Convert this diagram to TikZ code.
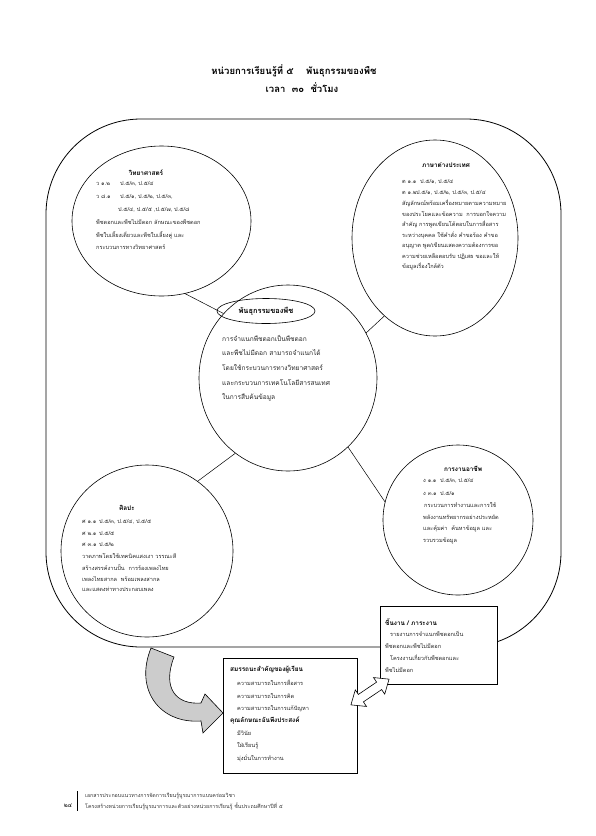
\documentclass[tikz,border=0pt]{standalone}
\usepackage{fontspec}
\newfontfamily\thf[Script=Thai]{Loma}
\usetikzlibrary{shapes.geometric,shapes.arrows}
\newcommand\tlines[6]{%
  \foreach \s [count=\i from 0] in {#5} {\node[#6] (#1\i) at (#2, #3+\i*#4) {\s};}}
\begin{document}
\begin{tikzpicture}[x=1pt,y=-1pt, font=\thf,
  bub/.style={draw, ellipse, inner sep=0pt, line width=0.6pt},
  tt/.style={anchor=west, inner sep=0pt, font=\thf\fontsize{5.6}{6}\selectfont, text=black!85},
  tc/.style={anchor=west, inner sep=0pt, font=\thf\fontsize{6.6}{7}\selectfont, text=black!85},
  hd/.style={inner sep=0pt, font=\thf\bfseries\fontsize{6.4}{7}\selectfont},
  hdw/.style={anchor=west, inner sep=0pt, font=\thf\bfseries\fontsize{6.4}{7}\selectfont},
  link/.style={line width=0.5pt},
  box/.style={draw, fill=white, inner sep=0pt, line width=0.6pt}]
\useasboundingbox (0,0) rectangle (595,836);
% title
\node[font=\thf\bfseries\fontsize{9.5}{10}\selectfont, inner sep=0] (title1) at (294,71) {หน่วยการเรียนรู้ที่ ๕ \quad พันธุกรรมของพืช};
\node[font=\thf\bfseries\fontsize{9.5}{10}\selectfont, inner sep=0] (title2) at (302,88) {เวลา \ ๓๐ \ ชั่วโมง};
% frame
\node[draw, line width=0.8pt, rounded corners=95pt, minimum width=515pt, minimum height=528pt, inner sep=0] (frame) at (303.5,383) {};
% bubbles
\node[bub, minimum width=179pt, minimum height=150pt] (sci) at (161.5,221) {};
\node[bub, minimum width=166pt, minimum height=196pt] (eng) at (435,238) {};
\node[bub, minimum width=178pt, minimum height=186pt] (core) at (288,378) {};
\node[bub, minimum width=150pt, minimum height=150pt] (work) at (458,520) {};
\node[bub, minimum width=172pt, minimum height=172pt] (art) at (147,551) {};
\node[bub, minimum width=98pt, minimum height=25pt] (coreT) at (266,311) {};
% links
\draw[link] (sci.-72) -- (core.135);
\draw[link] (core.30) -- (eng.-123);
\draw[link] (core.-49) -- (work.166);
\draw[link] (core.235) -- (art.54);
% texts: science
\node[hd] (sciT) at (146,173) {วิทยาศาสตร์};
\tlines{sci}{96}{184}{12.7}{{\makebox[24pt][l]{ว ๑.๒}ป.๕/๓, ป.๕/๔},{\makebox[24pt][l]{ว ๘.๑}ป.๕/๑, ป.๕/๒, ป.๕/๓,},{\hspace*{22pt}ป.๕/๔, ป.๕/๕ ,ป.๕/๗, ป.๕/๘},{พืชดอกและพืชไม่มีดอก ลักษณะของพืชดอก},{พืชใบเลี้ยงเดี่ยวและพืชใบเลี้ยงคู่ และ},{กระบวนการทางวิทยาศาสตร์}}{tt}
% english
\node[hd] (engT) at (446,165) {ภาษาต่างประเทศ};
\tlines{eng}{402}{182}{10.6}{{\makebox[18pt][l]{ต ๑.๑}ป.๕/๑, ป.๕/๔},{\makebox[14pt][l]{ต ๑.๒}ป.๕/๑, ป.๕/๒, ป.๕/๓, ป.๕/๔},{สัญลักษณ์พร้อมเครื่องหมายตามความหมาย},{ของประโยคและข้อความ \ การบอกใจความ},{สำคัญ การพูดเขียนโต้ตอบในการสื่อสาร},{ระหว่างบุคคล ใช้คำสั่ง คำขอร้อง คำขอ},{อนุญาต พูด/เขียนแสดงความต้องการขอ},{ความช่วยเหลือตอบรับ ปฏิเสธ ขอและให้},{ข้อมูลเรื่องใกล้ตัว}}{tt}
% core
\node[font=\thf\bfseries\fontsize{7.4}{8}\selectfont, inner sep=0] (coreTT) at (coreT) {พันธุกรรมของพืช};
\tlines{core}{222}{338}{14.8}{{การจำแนกพืชดอกเป็นพืชดอก},{และพืชไม่มีดอก สามารถจำแนกได้},{โดยใช้กระบวนการทางวิทยาศาสตร์},{และกระบวนการเทคโนโลยีสารสนเทศ},{ในการสืบค้นข้อมูล}}{tc}
% work
\node[hd] (workT) at (463,469) {การงานอาชีพ};
\tlines{work}{423}{481}{12}{{\makebox[17pt][l]{ง ๑.๑}ป.๕/๓, ป.๕/๔},{\makebox[17pt][l]{ง ๓.๑}ป.๕/๑},{\,กระบวนการทำงานและการใช้},{พลังงานทรัพยากรอย่างประหยัด},{และคุ้มค่า \ ค้นหาข้อมูล และ},{รวบรวมข้อมูล}}{tt}
% art
\node[hd] (artT) at (127,508) {ศิลปะ};
\tlines{art}{82}{522}{11.3}{{\makebox[17pt][l]{ศ ๑.๑}ป.๕/๓, ป.๕/๔, ป.๕/๕},{\makebox[17pt][l]{ศ ๒.๑}ป.๕/๕},{\makebox[17pt][l]{ศ ๓.๑}ป.๕/๒},{วาดภาพโดยใช้เทคนิคแสงเงา วรรณะสี},{สร้างสรรค์งานปั้น \ การร้องเพลงไทย},{เพลงไทยสากล \ พร้อมเพลงสากล},{และแสดงท่าทางประกอบเพลง}}{tt}
% grey curved arrow
\draw[fill=black!20, line width=0.6pt] (151,648) .. controls (134,690) and (160,724) .. (201,721) -- (203,733) -- (223,713) -- (205,694) -- (201,703) .. controls (176,705) and (162,688) .. (174,657) -- cycle;
% task box
\node[box, minimum width=117pt, minimum height=78pt] (task) at (438.5,645) {};
\node[hdw] (taskT) at (385,622) {ชิ้นงาน / ภาระงาน};
\node[tt] (task1) at (390,634) {รายงานการจำแนกพืชดอกเป็น};
\node[tt] (task2) at (385,646) {พืชดอกและพืชไม่มีดอก};
\node[tt] (task3) at (390,658) {โครงงานเกี่ยวกับพืชดอกและ};
\node[tt] (task4) at (385,670) {พืชไม่มีดอก};
% competency box
\node[box, minimum width=134pt, minimum height=115pt] (comp) at (290,715.5) {};
\node[hdw] (compT) at (230,670) {สมรรถนะสำคัญของผู้เรียน};
\tlines{compa}{237}{683}{12.6}{{ความสามารถในการสื่อสาร},{ความสามารถในการคิด},{ความสามารถในการแก้ปัญหา}}{tt}
\node[hdw] (compU) at (230,721) {คุณลักษณะอันพึงประสงค์};
\tlines{compb}{237}{733}{12.8}{{มีวินัย},{ใฝ่เรียนรู้},{มุ่งมั่นในการทำงาน}}{tt}
% double block arrow between the boxes
\begin{scope}[shift={(370,692)}, rotate=34]
\draw[fill=white, line width=0.6pt, line join=miter] (-23,0) -- (-11,-10) -- (-11,-4.5) -- (11,-4.5) -- (11,-10) -- (23,0) -- (11,10) -- (11,4.5) -- (-11,4.5) -- (-11,10) -- cycle;
\end{scope}
% footer
\node[font=\thf\fontsize{6}{7}\selectfont, inner sep=0] (pg) at (68,806) {๒๔};
\draw[line width=0.6pt] (77,791) coordinate (barA) -- (77,811) coordinate (barB);
\node[anchor=west, inner sep=0, font=\thf\fontsize{5.3}{6}\selectfont, text=black!80] (foot1) at (85,796) {เอกสารประกอบแนวทางการจัดการเรียนรู้บูรณาการแบบคร่อมวิชา};
\node[anchor=west, inner sep=0, font=\thf\fontsize{5.3}{6}\selectfont, text=black!80] (foot2) at (85,806) {โครงสร้างหน่วยการเรียนรู้บูรณาการและตัวอย่างหน่วยการเรียนรู้ ชั้นประถมศึกษาปีที่ ๕};
\end{tikzpicture}
\end{document}
